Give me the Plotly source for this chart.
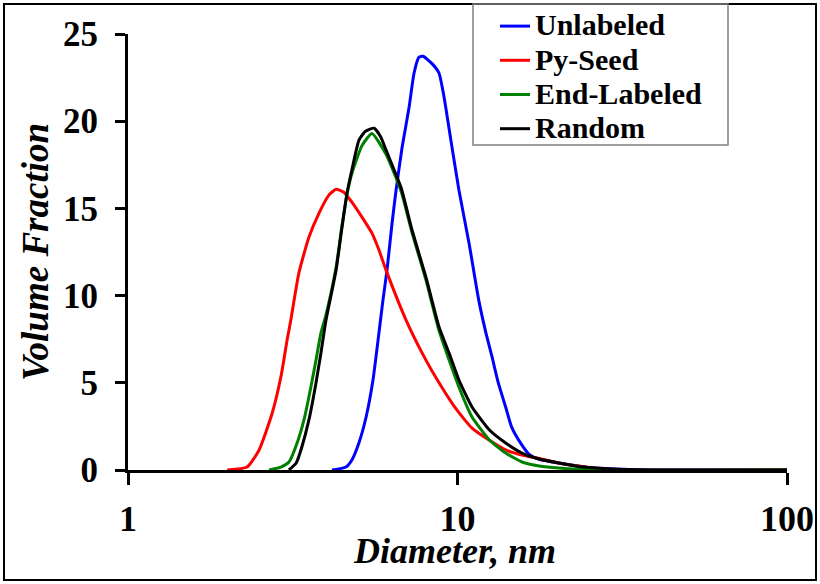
import plotly.graph_objects as go

# ---- data ----
unlabeled_d = [4.16, 4.59, 4.78, 5.02, 5.28, 5.54, 5.74, 5.94, 6.11, 6.33, 6.51, 6.79, 7.13, 7.38,
               7.64, 7.86, 8.37, 8.79, 9.10, 9.55, 10.1, 10.84, 11.6, 12.2, 12.73, 13.3, 14.0,
               14.6, 15.6, 16.5, 17.6, 20.3, 25.0, 31.0, 40.9, 100]
unlabeled_v = [0, 0.17, 0.57, 1.55, 3.04, 5.16, 7.45, 9.74, 11.46, 14.15, 16.05, 18.5, 20.8, 22.75,
               23.67, 23.72, 23.3, 22.75, 21.4, 18.9, 16.05, 13.0, 9.74, 7.85, 6.48, 4.99, 3.61,
               2.46, 1.5, 0.9, 0.63, 0.4, 0.15, 0.05, 0, 0]

pyseed_d = [2.00, 2.30, 2.50, 2.74, 2.91, 3.04, 3.12, 3.30, 3.54, 3.80, 4.07, 4.28, 4.52, 4.78,
            5.13, 5.50, 5.78, 6.07, 6.98, 8.02, 8.79, 9.9, 11.07, 12.5, 14.0, 15.7, 17.7, 20.3,
            25.0, 31.0, 100]
pyseed_v = [0, 0.17, 1.15, 3.27, 5.33, 7.45, 8.6, 11.29, 13.35, 14.73, 15.76, 16.1, 15.93, 15.36,
            14.5, 13.58, 12.6, 11.46, 8.6, 6.3, 5.0, 3.5, 2.4, 1.7, 1.15, 0.86, 0.66, 0.4,
            0.15, 0, 0]

endlab_d = [2.68, 2.91, 3.08, 3.26, 3.42, 3.59, 3.72, 3.85, 3.99, 4.28, 4.46, 4.62, 4.78, 5.13,
            5.50, 6.07, 6.74, 7.28, 8.02, 8.79, 10.1, 11.07, 12.5, 14.0, 15.7, 17.7, 20.3, 26.9, 100]
endlab_v = [0, 0.17, 0.46, 1.55, 2.87, 4.76, 6.3, 7.85, 8.9, 11.6, 14.0, 15.8, 17.0, 18.6,
            19.3, 18.1, 16.0, 13.6, 10.9, 8.0, 4.76, 3.04, 1.72, 0.97, 0.46, 0.23, 0.11, 0, 0]

random_d = [3.08, 3.24, 3.37, 3.54, 3.72, 3.85, 3.99, 4.28, 4.46, 4.62, 4.78, 5.02, 5.24, 5.58,
            5.85, 6.07, 6.74, 7.28, 8.02, 8.79, 9.43, 10.1, 11.07, 12.5, 14.0, 15.7, 17.7, 20.3,
            23.4, 29.4, 38, 100]
random_v = [0, 0.4, 1.32, 2.87, 4.99, 6.7, 8.6, 11.46, 13.9, 15.87, 17.2, 18.9, 19.4, 19.6,
            19.1, 18.34, 16.2, 13.75, 11.06, 8.2, 6.7, 5.16, 3.61, 2.29, 1.55, 0.97, 0.63, 0.4,
            0.2, 0.06, 0, 0]

series_names = ["Unlabeled", "Py-Seed", "End-Labeled", "Random"]
series_colors = ["#0000FF", "#FF0000", "#008000", "#000000"]
x_tick_vals = [1, 10, 100]
x_tick_text = ["1", "10", "100"]
y_tick_vals = [0, 5, 10, 15, 20, 25]
x_title = "Diameter, nm"
y_title = "Volume Fraction"

FONT = "Liberation Serif, Times New Roman, serif"

fig = go.Figure()
for name, color, d, v in zip(series_names, series_colors,
                             [unlabeled_d, pyseed_d, endlab_d, random_d],
                             [unlabeled_v, pyseed_v, endlab_v, random_v]):
    fig.add_trace(go.Scatter(x=d, y=v, mode="lines",
                             name='<span style="font-size:30px">' + name + '</span>',
                             line=dict(color=color, width=3, shape="spline", smoothing=0.5)))

W, H = 820, 584
ml, mr, mt, mb = 128, 33, 34, 114
pw, ph = W - ml - mr, H - mt - mb


def px(x):
    return (x - ml) / pw


def py(y):
    return (H - mb - y) / ph


fig.update_layout(
    width=W, height=H,
    margin=dict(l=ml, r=mr, t=mt, b=mb, autoexpand=False),
    paper_bgcolor="white", plot_bgcolor="white",
    font=dict(family=FONT, color="black"),
    showlegend=True,
    legend=dict(x=px(495), y=py(4), xanchor="left", yanchor="top",
                bgcolor="rgba(0,0,0,0)", borderwidth=0,
                font=dict(family=FONT, size=24, weight="bold", color="black"),
                traceorder="normal"),
    xaxis=dict(type="log", range=[0, 2], tickvals=x_tick_vals, ticktext=x_tick_text,
               ticks="outside", ticklen=12, tickwidth=3, tickcolor="black",
               showline=True, linewidth=3, linecolor="black", showgrid=False, zeroline=False,
               tickfont=dict(family=FONT, size=36, weight="bold"), ticklabelstandoff=3),
    yaxis=dict(range=[0, 25], tickvals=y_tick_vals,
               ticks="outside", ticklen=10, tickwidth=3, tickcolor="black",
               showline=True, linewidth=3, linecolor="black", showgrid=False, zeroline=False,
               tickfont=dict(family=FONT, size=35, weight="bold"), ticklabelstandoff=10,
               title=dict(text=y_title, standoff=4,
                          font=dict(family=FONT, size=37, weight="bold", style="italic"))),
    annotations=[
        dict(text=x_title, xref="paper", yref="paper", x=px(454), y=py(551),
             xanchor="center", yanchor="middle", showarrow=False,
             font=dict(family=FONT, size=36, weight="bold", style="italic", color="black")),
    ],
    shapes=[
        dict(type="rect", xref="paper", yref="paper", x0=px(4), x1=px(816), y0=py(580), y1=py(4),
             line=dict(color="black", width=2), fillcolor="rgba(0,0,0,0)", layer="below"),
        dict(type="rect", xref="paper", yref="paper", x0=px(473), x1=px(728), y0=py(145), y1=py(4),
             line=dict(color="#808080", width=1.5), fillcolor="rgba(0,0,0,0)", layer="below"),
    ],
)

fig.write_html("out.html")
